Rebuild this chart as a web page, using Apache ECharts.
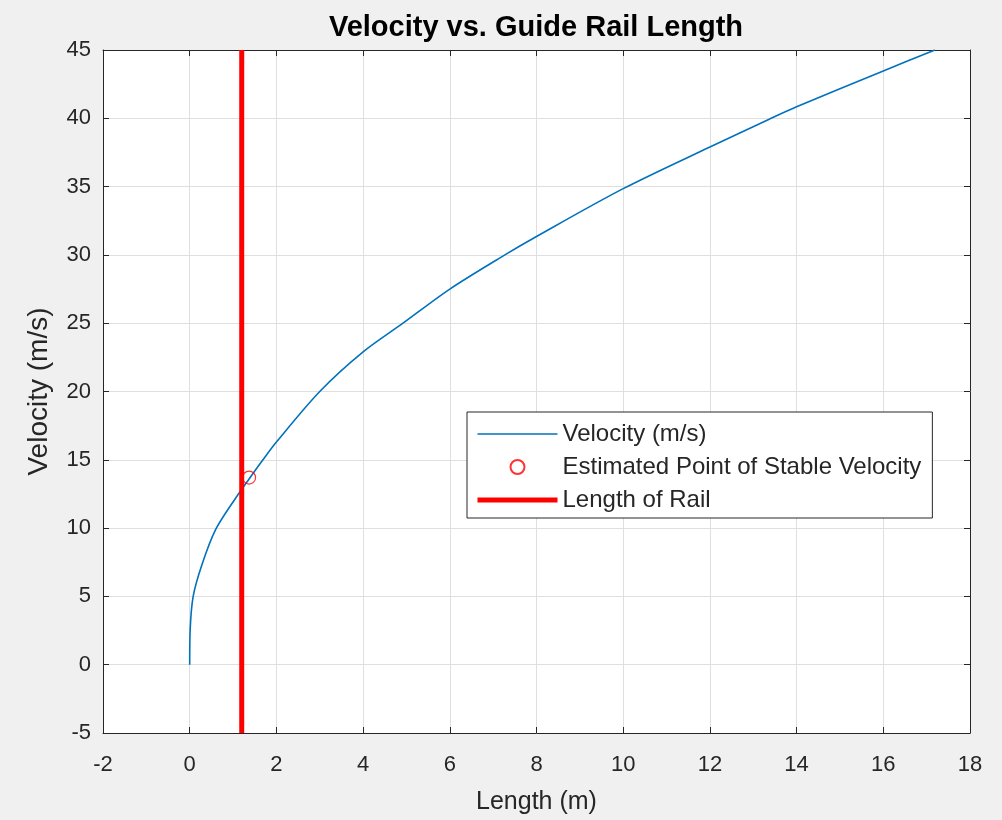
<!DOCTYPE html>
<html>
<head>
<meta charset="utf-8">
<script src="https://cdn.jsdelivr.net/npm/echarts@6/dist/echarts.min.js"></script>
<style>
html,body{margin:0;padding:0;background:#f0f0f0;}
#chart{width:1002px;height:820px;}
</style>
</head>
<body>
<div id="chart"></div>
<script>
// ---- data ----
const lengthM  = [0, 0.01, 0.08, 0.28, 0.6, 1.05, 1.37, 1.69, 2, 3, 4, 4.92, 6, 7.27, 8, 10, 12, 13.38, 14, 16, 17.19];
const velocity = [0, 2.5, 5, 7.3, 9.9, 12.15, 13.6, 15, 16.3, 20, 22.9, 25, 27.5, 30, 31.35, 34.85, 37.9, 39.95, 40.84, 43.47, 45];
const stablePoint = [1.37, 13.7];
const railLength = 1.2;
const xTicks = [-2, 0, 2, 4, 6, 8, 10, 12, 14, 16, 18];
const yTicks = [-5, 0, 5, 10, 15, 20, 25, 30, 35, 40, 45];
const seriesNames = ['Velocity (m/s)', 'Estimated Point of Stable Velocity', 'Length of Rail'];

const txt = '#262626';
const font = 'Liberation Sans, Arial, Helvetica, sans-serif';

const velData = lengthM.map((x, i) => [x, velocity[i]]);
const railData = [[railLength, yTicks[0]], [railLength, yTicks[yTicks.length - 1]]];

const xMin = xTicks[0], xMax = xTicks[xTicks.length - 1], xStep = xTicks[1] - xTicks[0];
const yMin = yTicks[0], yMax = yTicks[yTicks.length - 1], yStep = yTicks[1] - yTicks[0];

const chart = echarts.init(document.getElementById('chart'), null, {renderer: 'canvas'});

const axisCommon = {
  axisLine: {show: true, onZero: false, lineStyle: {color: txt, width: 1}},
  axisTick: {show: true, inside: true, length: 6, lineStyle: {color: txt, width: 1}}
};
const noSymbol = {color: 'rgba(0,0,0,0)', borderWidth: 0, opacity: 0};

chart.setOption({
  backgroundColor: '#f0f0f0',
  animation: false,
  textStyle: {fontFamily: font},
  title: {
    text: 'Velocity vs. Guide Rail Length',
    left: 531, top: 8, textAlign: 'center',
    textStyle: {fontFamily: font, fontSize: 29, fontWeight: 'bold', color: '#000'}
  },
  grid: {
    left: 103, right: 32, top: 50, bottom: 85,
    show: true, backgroundColor: '#ffffff', borderWidth: 0
  },
  legend: {
    data: [
      {name: seriesNames[0], itemStyle: noSymbol, lineStyle: {color: '#0072BD', width: 1.6}},
      {name: seriesNames[1]},
      {name: seriesNames[2], itemStyle: noSymbol, lineStyle: {color: '#ff0000', width: 5}}
    ],
    orient: 'vertical',
    left: 467, top: 412,
    padding: [10, 11, 6, 8],
    itemWidth: 80, itemHeight: 14, itemGap: 9,
    backgroundColor: '#ffffff',
    borderColor: txt, borderWidth: 1, borderRadius: 0,
    textStyle: {fontFamily: font, fontSize: 24, color: txt, lineHeight: 24}
  },
  xAxis: [
    Object.assign({
      type: 'value', position: 'bottom', min: xMin, max: xMax, interval: xStep,
      name: 'Length (m)', nameLocation: 'middle', nameGap: 57,
      nameTextStyle: {fontFamily: font, fontSize: 25, color: txt},
      axisLabel: {fontFamily: font, fontSize: 22, color: txt, margin: 21},
      splitLine: {show: true, lineStyle: {color: '#dfdfdf', width: 1}}
    }, axisCommon),
    Object.assign({
      type: 'value', position: 'top', min: xMin, max: xMax, interval: xStep,
      axisLabel: {show: false}, splitLine: {show: false}
    }, axisCommon)
  ],
  yAxis: [
    Object.assign({
      type: 'value', position: 'left', min: yMin, max: yMax, interval: yStep,
      name: 'Velocity (m/s)', nameLocation: 'middle', nameGap: 50,
      nameTextStyle: {fontFamily: font, fontSize: 28, color: txt},
      axisLabel: {fontFamily: font, fontSize: 22, color: txt, margin: 12},
      splitLine: {show: true, lineStyle: {color: '#dfdfdf', width: 1}}
    }, axisCommon),
    Object.assign({
      type: 'value', position: 'right', min: yMin, max: yMax, interval: yStep,
      axisLabel: {show: false}, splitLine: {show: false}
    }, axisCommon)
  ],
  series: [
    {
      name: seriesNames[0], type: 'line', data: velData,
      smooth: 0.3, showSymbol: false, symbol: 'none',
      lineStyle: {color: '#0072BD', width: 1.6}, itemStyle: {color: '#0072BD'}, z: 2
    },
    {
      name: seriesNames[1], type: 'scatter', data: [stablePoint],
      symbol: 'circle', symbolSize: 13,
      itemStyle: {color: 'rgba(255,255,255,0)', borderColor: '#ff0000', borderWidth: 1.2}, z: 4
    },
    {
      name: seriesNames[2], type: 'line', data: railData,
      showSymbol: false, symbol: 'none',
      lineStyle: {color: '#ff0000', width: 5}, itemStyle: {color: '#ff0000'}, z: 3
    }
  ]
});
</script>
</body>
</html>
